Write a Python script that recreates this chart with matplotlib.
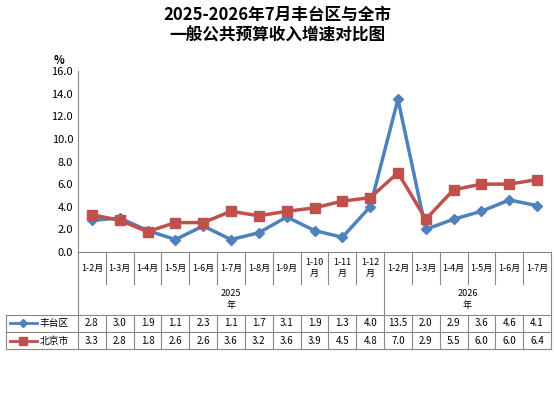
import matplotlib
matplotlib.use("Agg")
import matplotlib.pyplot as plt
from matplotlib.lines import Line2D
import matplotlib.transforms as mtrans

plt.rcParams['font.family'] = ['Noto Sans CJK SC', 'DejaVu Sans']

months = ['1-2月','1-3月','1-4月','1-5月','1-6月','1-7月','1-8月','1-9月','1-10\n月','1-11\n月','1-12\n月',
          '1-2月','1-3月','1-4月','1-5月','1-6月','1-7月']
years = ['2025\n年', '2026\n年']
year_counts = [11, 6]
fengtai = [2.8,3.0,1.9,1.1,2.3,1.1,1.7,3.1,1.9,1.3,4.0,13.5,2.0,2.9,3.6,4.6,4.1]
beijing = [3.3,2.8,1.8,2.6,2.6,3.6,3.2,3.6,3.9,4.5,4.8,7.0,2.9,5.5,6.0,6.0,6.4]
names = ['丰台区', '北京市']
blue, red = '#4F81BD', '#C0504D'

fig = plt.figure(figsize=(5.54, 4.04), dpi=100)
ax = fig.add_axes([78/554, 1-252/404, (551-78)/554, 181/404])
n = len(months)
x = list(range(n))
ax.plot(x, fengtai, color=blue, lw=2.5, marker='D', ms=5.5)
ax.plot(x, beijing, color=red, lw=2.5, marker='s', ms=7)
ax.set_xlim(-0.5, n-0.5)
ax.set_ylim(0, 16)
ax.set_yticks(range(0, 17, 2))
ax.set_yticklabels([f'{v:.1f}' for v in range(0, 17, 2)], fontsize=8)
ax.set_xticks([])
for s in ['top', 'right']:
    ax.spines[s].set_visible(False)
ax.spines['left'].set_color('#888888')
ax.spines['bottom'].set_color('#888888')
ax.tick_params(axis='y', length=0)
ax.text(-0.04, 1.04, '%', transform=ax.transAxes, fontsize=8, fontweight='bold', ha='center')
fig.suptitle('2025-2026年7月丰台区与全市\n一般公共预算收入增速对比图', fontsize=12, fontweight='bold', y=0.985, linespacing=1.2)

tr = mtrans.blended_transform_factory(ax.transData, ax.transAxes)
lc = '#888888'
y_m, y_y, y_r1, y_r2 = -0.177, -0.348, -0.442, -0.536
xl = -3.09
def hl(x0, x1, y):
    ax.add_line(Line2D([x0, x1], [y, y], transform=tr, color=lc, lw=0.8, clip_on=False))
def vl(xx, y0, y1):
    ax.add_line(Line2D([xx, xx], [y0, y1], transform=tr, color=lc, lw=0.8, clip_on=False))
hl(xl, n-0.5, y_y); hl(xl, n-0.5, y_r1); hl(xl, n-0.5, y_r2)
vl(xl, y_y, y_r2)
for i in range(n+1):
    vl(i-0.5, 0, y_m if i not in (0, 11, 17) else y_r2)
    if i not in (0, 11, 17):
        vl(i-0.5, y_y, y_r2)
for i, m in enumerate(months):
    ax.text(i, (0 + y_m)/2, m, transform=tr, ha='center', va='center', fontsize=6.5, linespacing=1.3)
    ax.text(i, (y_y + y_r1)/2, f'{fengtai[i]:.1f}', transform=tr, ha='center', va='center', fontsize=7)
    ax.text(i, (y_r1 + y_r2)/2, f'{beijing[i]:.1f}', transform=tr, ha='center', va='center', fontsize=7)
start = 0
for yl, c in zip(years, year_counts):
    ax.text(start + (c-1)/2, (y_m + y_y)/2, yl, transform=tr, ha='center', va='center', fontsize=6.5, linespacing=1.3)
    start += c
for nm, col, mk, yy, ms in [(names[0], blue, 'D', (y_y+y_r1)/2, 4.5), (names[1], red, 's', (y_r1+y_r2)/2, 5.5)]:
    ax.add_line(Line2D([xl+0.15, xl+1.1], [yy, yy], transform=tr, color=col, lw=2, clip_on=False))
    ax.add_line(Line2D([xl+0.62], [yy], transform=tr, color=col, marker=mk, ms=ms, clip_on=False))
    ax.text(xl+1.2, yy, nm, transform=tr, ha='left', va='center', fontsize=7)
fig.savefig('out.png', dpi=100)
